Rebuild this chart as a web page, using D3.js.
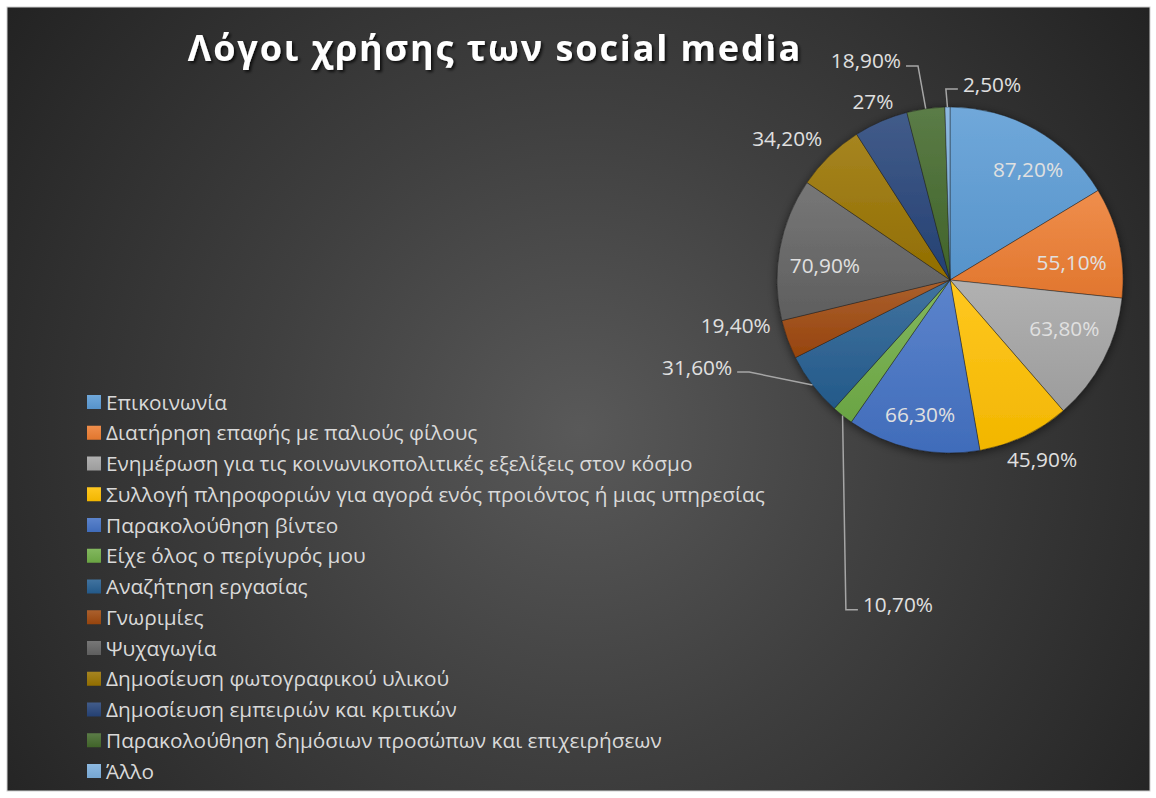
<!DOCTYPE html>
<html>
<head>
<meta charset="utf-8">
<script src="https://cdn.jsdelivr.net/npm/d3@7/dist/d3.min.js"></script>
<style>
  html, body { margin: 0; padding: 0; background: #ffffff; }
  svg { display: block; }
</style>
</head>
<body>
<svg id="chart" width="1156" height="798"></svg>
<script>
// Reasons for using social media — survey answers (% of respondents)
const categories = [
  "Επικοινωνία",
  "Διατήρηση επαφής με παλιούς φίλους",
  "Ενημέρωση για τις κοινωνικοπολιτικές εξελίξεις στον κόσμο",
  "Συλλογή πληροφοριών για αγορά ενός προιόντος ή μιας υπηρεσίας",
  "Παρακολούθηση βίντεο",
  "Είχε όλος ο περίγυρός μου",
  "Αναζήτηση εργασίας",
  "Γνωριμίες",
  "Ψυχαγωγία",
  "Δημοσίευση φωτογραφικού υλικού",
  "Δημοσίευση εμπειριών και κριτικών",
  "Παρακολούθηση δημόσιων προσώπων και επιχειρήσεων",
  "Άλλο"
];
const values = [87.2, 55.1, 63.8, 45.9, 66.3, 10.7, 31.6, 19.4, 70.9, 34.2, 27, 18.9, 2.5];
const title = "Λόγοι χρήσης των social media";

// Office palette
const colors = ["#5B9BD5", "#ED7D31", "#A5A5A5", "#FFC000", "#4472C4", "#70AD47",
                "#255E91", "#9E480E", "#636363", "#997300", "#264478", "#43682B", "#7CAFDD"];

// Data label placement: polar position (degrees clockwise from 12 o'clock, distance from centre)
const labelPlacement = [
  { angle: 35.3,  dist: 135 },
  { angle: 81.6,  dist: 123 },
  { angle: 112.8, dist: 124 },
  { angle: 152.9, dist: 202 },
  { angle: 192.5, dist: 138 },
  { angle: 189.1, dist: 329, leader: true },
  { angle: 251.0, dist: 267.5, leader: true },
  { angle: 258.1, dist: 219 },
  { angle: 276.8, dist: 126 },
  { angle: 311.1, dist: 216 },
  { angle: 336.6, dist: 194 },
  { angle: 339.0, dist: 234.6, leader: true },
  { angle: 12.1,  dist: 200.4, leader: true }
];

const cx = 950, cy = 280, R = 173;
const FONT = "'Open Sans', 'Noto Sans', sans-serif";

const fmtValue = v => {
  const s = Number.isInteger(v) ? String(v) : v.toFixed(2);
  return s.replace(".", ",") + "%";
};

const svg = d3.select("#chart");
const defs = svg.append("defs");

// chart area background
const bg = defs.append("radialGradient").attr("id", "bg")
  .attr("gradientUnits", "userSpaceOnUse")
  .attr("cx", 580).attr("cy", 430).attr("r", 720);
bg.append("stop").attr("offset", "0%").attr("stop-color", "#595959");
bg.append("stop").attr("offset", "45%").attr("stop-color", "#3f3f3f");
bg.append("stop").attr("offset", "100%").attr("stop-color", "#222222");

// slice gradients (lighter on top)
colors.forEach((c, i) => {
  const g = defs.append("linearGradient").attr("id", "sg" + i)
    .attr("x1", 0).attr("y1", 0).attr("x2", 0).attr("y2", 1);
  g.append("stop").attr("offset", "0%").attr("stop-color", d3.interpolateRgb(c, "#ffffff")(0.13));
  g.append("stop").attr("offset", "100%").attr("stop-color", d3.color(c).darker(0.15));
});

const shadow = defs.append("filter").attr("id", "pieShadow")
  .attr("x", "-20%").attr("y", "-20%").attr("width", "140%").attr("height", "140%");
shadow.append("feDropShadow").attr("dx", 0).attr("dy", 2).attr("stdDeviation", 5)
  .attr("flood-color", "#000").attr("flood-opacity", 0.55);

const tshadow = defs.append("filter").attr("id", "titleShadow")
  .attr("x", "-10%").attr("y", "-30%").attr("width", "120%").attr("height", "160%");
tshadow.append("feDropShadow").attr("dx", 2).attr("dy", 2).attr("stdDeviation", 1.5)
  .attr("flood-color", "#000").attr("flood-opacity", 0.75);

svg.append("rect")
  .attr("x", 7).attr("y", 7).attr("width", 1143).attr("height", 784)
  .attr("fill", "url(#bg)")
  .attr("stroke", "#d0d0d0").attr("stroke-width", 1);

// title
svg.append("text")
  .attr("x", 495).attr("y", 61)
  .attr("text-anchor", "middle")
  .attr("font-family", FONT).attr("font-weight", 700).attr("font-size", 36)
  .attr("letter-spacing", 1.9)
  .attr("fill", "#ffffff")
  .attr("filter", "url(#titleShadow)")
  .text(title);

// pie
const pie = d3.pie().sort(null).value(d => d)(values);
const arc = d3.arc().innerRadius(0).outerRadius(R);

const gPie = svg.append("g").attr("transform", `translate(${cx},${cy})`);
gPie.append("g").attr("filter", "url(#pieShadow)")
  .selectAll("path").data(pie).join("path")
  .attr("d", arc)
  .attr("fill", (d, i) => `url(#sg${i})`)
  .attr("stroke", "rgba(30,30,30,0.55)")
  .attr("stroke-width", 0.8)
  .attr("stroke-linejoin", "round");

const polar = (deg, dist) => {
  const a = deg * Math.PI / 180;
  return [dist * Math.sin(a), -dist * Math.cos(a)];
};

// data labels
const gLab = gPie.append("g");
pie.forEach((d, i) => {
  const p = labelPlacement[i];
  const [lx, ly] = polar(p.angle, p.dist);
  const t = gLab.append("text")
    .attr("x", lx).attr("y", ly).attr("dy", "0.36em")
    .attr("text-anchor", "middle")
    .attr("font-family", FONT).attr("font-size", 20.8)
    .attr("fill", "#e0e0e0")
    .text(fmtValue(values[i]));
  if (p.leader) {
    const w = t.node().getComputedTextLength();
    const mid = (d.startAngle + d.endAngle) / 2;
    const ex = R * Math.sin(mid), ey = -R * Math.cos(mid);
    const y = ly + 5;
    let x0, x1;
    if (lx < ex) { x0 = lx + w / 2 + 5; x1 = x0 + 12; }
    else { x0 = lx - w / 2 - 5; x1 = x0 - 12; }
    gLab.insert("path", "text")
      .attr("d", `M${x0},${y}L${x1},${y}L${ex},${ey}`)
      .attr("fill", "none")
      .attr("stroke", "#a6a6a6").attr("stroke-width", 1.5);
  }
});

// legend
const legend = svg.append("g").attr("transform", "translate(87,402)");
const item = legend.selectAll("g").data(categories).join("g")
  .attr("transform", (d, i) => `translate(0,${i * 30.75})`);
item.append("rect")
  .attr("x", 0).attr("y", -7).attr("width", 14).attr("height", 14)
  .attr("fill", (d, i) => `url(#sg${i})`);
item.append("text")
  .attr("x", 19).attr("y", 0).attr("dy", "0.36em")
  .attr("font-family", FONT).attr("font-size", 20.8)
  .attr("fill", "#d9d9d9")
  .text(d => d);
</script>
</body>
</html>
